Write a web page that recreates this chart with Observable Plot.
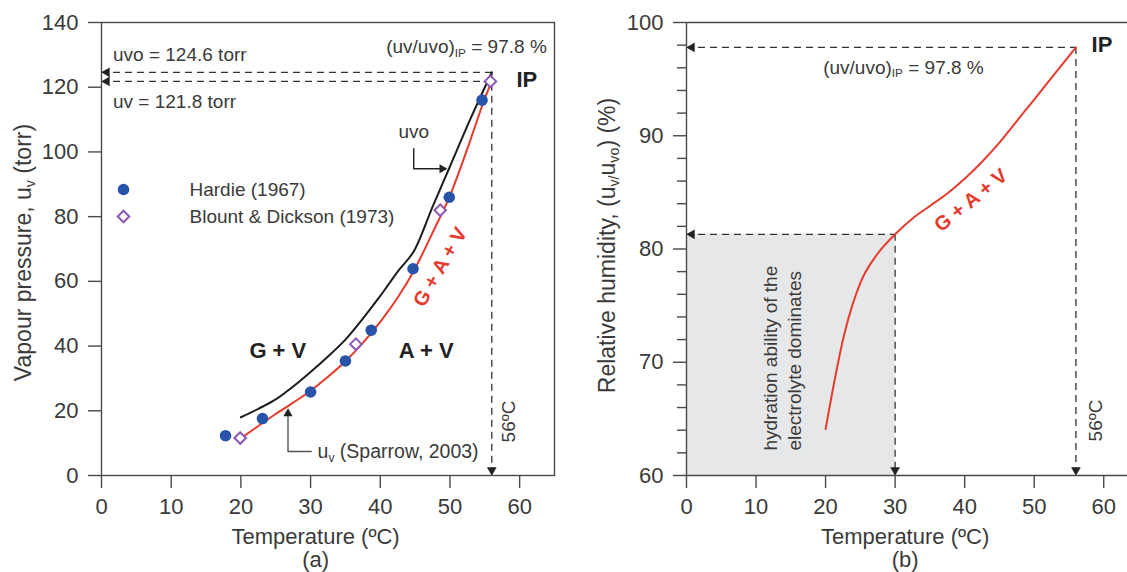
<!DOCTYPE html>
<html><head><meta charset="utf-8">
<script src="https://cdn.jsdelivr.net/npm/d3@7"></script>
<script src="https://cdn.jsdelivr.net/npm/@observablehq/plot@0.6"></script>
<style>
html,body{margin:0;padding:0;background:#fff;overflow:hidden;}
#wrap{display:flex;width:1127px;height:572px;}
#wrap svg{overflow:hidden;flex:none;}
</style></head><body><div id="wrap"></div>
<script>
// ---------- Panel (a) data ----------
const hardieT = [17.8, 23.1, 30.0, 35.0, 38.7, 44.7, 49.9, 54.6];
const hardieP = [12.3, 17.6, 25.8, 35.4, 44.9, 63.9, 86.0, 116.0];
const blountT = [19.9, 36.5, 48.6, 55.8];
const blountP = [11.6, 40.6, 82.0, 121.8];
const uvoT = [20, 22.5, 25, 27.5, 30, 32.5, 35, 37.5, 40, 42.5, 45, 47.5, 50, 53, 56];
const uvoP = [18.0, 20.6, 23.5, 27.5, 32.0, 36.8, 42.0, 48.5, 55.5, 63.0, 70.0, 83.0, 95.5, 110.5, 124.6];
const uvT = [20, 22.5, 25, 27.5, 30, 32.5, 35, 37.5, 40, 42.5, 45, 47.5, 50, 52.5, 55, 56];
const uvP = [11.5, 15.3, 19.0, 22.5, 26.2, 30.5, 35.3, 41.0, 47.5, 55.0, 64.0, 75.0, 86.5, 101.0, 116.5, 121.8];
const xTicks = [0, 10, 20, 30, 40, 50, 60];
const yTicksA = [0, 20, 40, 60, 80, 100, 120, 140];
const T_IP = 56, uvoIP = 124.6, uvIP = 121.8, rhIP = 97.8;

// ---------- Panel (b) data ----------
const rhT = [20, 22.7, 25, 27.5, 30, 32.5, 35, 37.5, 40, 42.5, 45, 47.5, 50, 53, 56];
const rhV = [64.1, 72.5, 77.0, 79.6, 81.3, 82.7, 83.8, 84.9, 86.2, 87.7, 89.4, 91.3, 93.2, 95.5, 97.8];
const yTicksB = [60, 70, 80, 90, 100];
const yMinorB = [62, 64, 66, 68, 72, 74, 76, 78, 82, 84, 86, 88, 92, 94, 96, 98];
const T_hyd = 30, rh_hyd = 81.3;

// annotation anchors (data units)
const uvoArrow = [[44.8, 101], [44.8, 94.8], [49.0, 94.8]];
const uvoArrowTip = [49.6, 94.8];
const spArrow = [[30.1, 7.4], [26.76, 7.4], [26.76, 19.6]];
const spArrowTip = [26.76, 20.7];

const FONT = "'Liberation Sans', Arial, Helvetica, sans-serif";
const INK = "#3a3a3a";
const AX = "#4a4a4a";
const RED = "#e63a2c";
const BLUE = "#2753a8";
const PURPLE = "#8d55b6";
const DASH = "7,5";

const hardie = hardieT.map((t, i) => ({t, p: hardieP[i]}));
const blount = blountT.map((t, i) => ({t, p: blountP[i]}));
const uvo = uvoT.map((t, i) => ({t, p: uvoP[i]}));
const uv = uvT.map((t, i) => ({t, p: uvP[i]}));
const rh = rhT.map((t, i) => ({t, v: rhV[i]}));

const common = {fontFamily: FONT, fontSize: "22px", color: INK, background: "white"};

const left = Plot.plot({
  width: 563, height: 572,
  marginLeft: 101, marginRight: 9, marginTop: 22, marginBottom: 97,
  style: common,
  x: {domain: [0, 65], range: [101, 554]},
  y: {domain: [0, 140], range: [475, 22]},
  marks: [
    // dashed guides
    Plot.ruleY([uvoIP, uvIP], {x1: 0, x2: T_IP, stroke: "#333", strokeWidth: 1.3, strokeDasharray: DASH}),
    Plot.ruleX([T_IP], {y1: uvoIP, y2: 0, stroke: "#333", strokeWidth: 1.3, strokeDasharray: DASH}),
    Plot.dot([[0, uvoIP], [0, uvIP]], {symbol: "triangle", rotate: -90, r: 3.6, fill: "#222", stroke: "none", dx: 5.4}),
    Plot.dot([[T_IP, 0]], {symbol: "triangle", rotate: 180, r: 3.6, fill: "#222", stroke: "none", dy: -5.4}),
    Plot.frame({stroke: AX, strokeWidth: 1.4}),
    Plot.axisX({ticks: xTicks, tickSize: 13, tickPadding: 10, label: null, stroke: AX, strokeWidth: 1.4, fill: INK}),
    Plot.axisY({ticks: yTicksA, tickSize: 13, tickPadding: 10, label: null, stroke: AX, strokeWidth: 1.4, fill: INK}),
    // curves
    Plot.line(uvo, {x: "t", y: "p", stroke: "#1c1c1c", strokeWidth: 2, curve: "monotone-x"}),
    Plot.line(uv, {x: "t", y: "p", stroke: RED, strokeWidth: 2, curve: "monotone-x"}),
    // data points
    Plot.dot(hardie, {x: "t", y: "p", r: 5.8, fill: BLUE, stroke: "none"}),
    Plot.dot(blount, {x: "t", y: "p", r: 5.2, symbol: "diamond2", stroke: PURPLE, strokeWidth: 2, fill: "white"}),
    // legend
    Plot.dot([0], {frameAnchor: "top-left", dx: 22, dy: 167, r: 5.8, fill: BLUE, stroke: "none"}),
    Plot.dot([0], {frameAnchor: "top-left", dx: 22, dy: 194, r: 5.2, symbol: "diamond2", stroke: PURPLE, strokeWidth: 2, fill: "white"}),
    Plot.text(["Hardie (1967)"], {frameAnchor: "top-left", dx: 88, dy: 167, fontSize: 19, textAnchor: "start", lineAnchor: "middle", fill: INK}),
    Plot.text(["Blount & Dickson (1973)"], {frameAnchor: "top-left", dx: 88, dy: 194, fontSize: 19, textAnchor: "start", lineAnchor: "middle", fill: INK}),
    // arrows
    Plot.line(uvoArrow, {stroke: "#222", strokeWidth: 1.4}),
    Plot.dot([uvoArrowTip], {symbol: "triangle", rotate: 90, r: 3.4, fill: "#222", stroke: "none", dx: -5}),
    Plot.line(spArrow, {stroke: "#555", strokeWidth: 1.4}),
    Plot.dot([spArrowTip], {symbol: "triangle", rotate: 0, r: 3.4, fill: "#222", stroke: "none", dy: 5}),
    // annotations
    Plot.text(["uvo = 124.6 torr"], {x: 0, y: uvoIP, dx: 11.5, dy: -17, textAnchor: "start", fontSize: 19, fill: INK}),
    Plot.text(["uv = 121.8 torr"], {x: 0, y: uvIP, dx: 11.5, dy: 21, textAnchor: "start", fontSize: 19, fill: INK}),
    Plot.text(["(uv/uvo)_{IP} = 97.8 %"], {x: T_IP, y: uvoIP, dx: 55, dy: -25, textAnchor: "end", fontSize: 19, fill: INK}),
    Plot.text(["IP"], {x: T_IP, y: uvoIP, dx: 35, dy: 8, fontSize: 22, fontWeight: "bold", fill: "#222"}),
    Plot.text(["56ºC"], {x: T_IP, y: 0, dx: 17.5, dy: -54, rotate: -90, fontSize: 19, fill: INK}),
    Plot.text(["uvo"], {x: 44.8, y: 106.1, fontSize: 19, fill: INK}),
    Plot.text(["u_{v} (Sparrow, 2003)"], {x: 31, y: 7.4, textAnchor: "start", fontSize: 19.5, fill: INK}),
    Plot.text(["G + V"], {x: 25.3, y: 38.6, fontSize: 22, fontWeight: "bold", fill: "#222"}),
    Plot.text(["A + V"], {x: 46.6, y: 38.6, fontSize: 22, fontWeight: "bold", fill: "#222"}),
    Plot.text(["G + A + V"], {x: 48.6, y: 64.4, rotate: -60, fontSize: 20, fontWeight: "bold", fill: RED}),
    // axis titles
    Plot.text(["Vapour pressure, u_{v} (torr)"], {frameAnchor: "left", dx: -78, dy: 3.5, rotate: -90, textAnchor: "middle", lineAnchor: "middle", fontSize: 23, fill: INK}),
    Plot.text(["Temperature (ºC)"], {x: () => 30, frameAnchor: "bottom", dx: 5, dy: 61, textAnchor: "middle", lineAnchor: "middle", fontSize: 22, fill: INK}),
    Plot.text(["(a)"], {x: () => 30, frameAnchor: "bottom", dx: 5, dy: 84, textAnchor: "middle", lineAnchor: "middle", fontSize: 22, fill: INK})
  ]
});

const right = Plot.plot({
  width: 564, height: 572,
  marginLeft: 123, marginRight: 0, marginTop: 22, marginBottom: 97,
  style: common,
  x: {domain: [0, 65], range: [123, 575]},
  y: {domain: [60, 100], range: [475, 22]},
  marks: [
    Plot.rect([0], {x1: () => 0, x2: () => T_hyd, y1: () => 60, y2: () => rh_hyd, fill: "#e6e7e9"}),
    Plot.ruleY([rh_hyd], {x1: 0, x2: T_hyd, stroke: "#333", strokeWidth: 1.3, strokeDasharray: DASH}),
    Plot.ruleX([T_hyd], {y1: rh_hyd, y2: 60, stroke: "#333", strokeWidth: 1.3, strokeDasharray: DASH}),
    Plot.ruleY([rhIP], {x1: 0, x2: T_IP, stroke: "#333", strokeWidth: 1.3, strokeDasharray: DASH}),
    Plot.ruleX([T_IP], {y1: rhIP, y2: 60, stroke: "#333", strokeWidth: 1.3, strokeDasharray: DASH}),
    Plot.dot([[0, rhIP], [0, rh_hyd]], {symbol: "triangle", rotate: -90, r: 3.6, fill: "#222", stroke: "none", dx: 5.4}),
    Plot.dot([[T_hyd, 60], [T_IP, 60]], {symbol: "triangle", rotate: 180, r: 3.6, fill: "#222", stroke: "none", dy: -5.4}),
    // frame: top, bottom, left (right edge lies beyond the picture)
    Plot.ruleY([60, 100], {x1: 0, x2: 65, stroke: AX, strokeWidth: 1.4}),
    Plot.ruleX([0], {y1: 60, y2: 100, stroke: AX, strokeWidth: 1.4}),
    Plot.axisX({ticks: xTicks, tickSize: 13, tickPadding: 10, label: null, stroke: AX, strokeWidth: 1.4, fill: INK}),
    Plot.axisY({ticks: yTicksB, tickSize: 13, tickPadding: 10, label: null, stroke: AX, strokeWidth: 1.4, fill: INK}),
    Plot.axisY({ticks: yMinorB, tickSize: 9, text: null, label: null, stroke: AX, strokeWidth: 1.4}),
    Plot.line(rh, {x: "t", y: "v", stroke: RED, strokeWidth: 2, curve: "monotone-x"}),
    Plot.text(["(uv/uvo)_{IP} = 97.8 %"], {x: 31.2, y: rhIP, dy: 20, fontSize: 19, fill: INK}),
    Plot.text(["IP"], {x: T_IP, y: rhIP, dx: 26, dy: -2, fontSize: 22, fontWeight: "bold", fill: "#222"}),
    Plot.text(["56ºC"], {x: T_IP, y: 60, dx: 19.5, dy: -55, rotate: -90, fontSize: 19, fill: INK}),
    Plot.text(["hydration ability of the\nelectrolyte dominates"], {x: 13.6, y: 62.2, rotate: -90, textAnchor: "start", lineAnchor: "middle", lineHeight: 1.3, fontSize: 19, fill: INK}),
    Plot.text(["G + A + V"], {x: 40.9, y: 84.3, rotate: -39, fontSize: 20, fontWeight: "bold", fill: RED}),
    Plot.text(["Relative humidity, (u_{v/}u_{vo}) (%)"], {frameAnchor: "left", dx: -79, dy: -3.5, rotate: -90, textAnchor: "middle", lineAnchor: "middle", fontSize: 23, fill: INK}),
    Plot.text(["Temperature (ºC)"], {x: () => 30, frameAnchor: "bottom", dx: 10, dy: 61, textAnchor: "middle", lineAnchor: "middle", fontSize: 22, fill: INK}),
    Plot.text(["(b)"], {x: () => 30, frameAnchor: "bottom", dx: 10, dy: 84, textAnchor: "middle", lineAnchor: "middle", fontSize: 22, fill: INK})
  ]
});

const wrap = document.getElementById("wrap");
wrap.appendChild(left);
wrap.appendChild(right);

// render "_{...}" as subscripts
function subs(root) {
  root.querySelectorAll("text, tspan").forEach(el => {
    if (el.childElementCount) return;
    const t = el.textContent;
    if (!t.includes("_{")) return;
    const fs = parseFloat(getComputedStyle(el).fontSize) || 20;
    const shift = 0.2 * fs;
    el.textContent = "";
    let lowered = false;
    t.split(/(_\{[^}]*\})/).forEach(p => {
      if (!p) return;
      const ts = document.createElementNS("http://www.w3.org/2000/svg", "tspan");
      if (p.startsWith("_{")) {
        ts.textContent = p.slice(2, -1);
        ts.setAttribute("font-size", (0.62 * fs) + "px");
        if (!lowered) { ts.setAttribute("dy", shift + "px"); lowered = true; }
      } else {
        ts.textContent = p;
        if (lowered) { ts.setAttribute("dy", (-shift) + "px"); lowered = false; }
      }
      el.appendChild(ts);
    });
  });
}
subs(left); subs(right);
</script></body></html>
